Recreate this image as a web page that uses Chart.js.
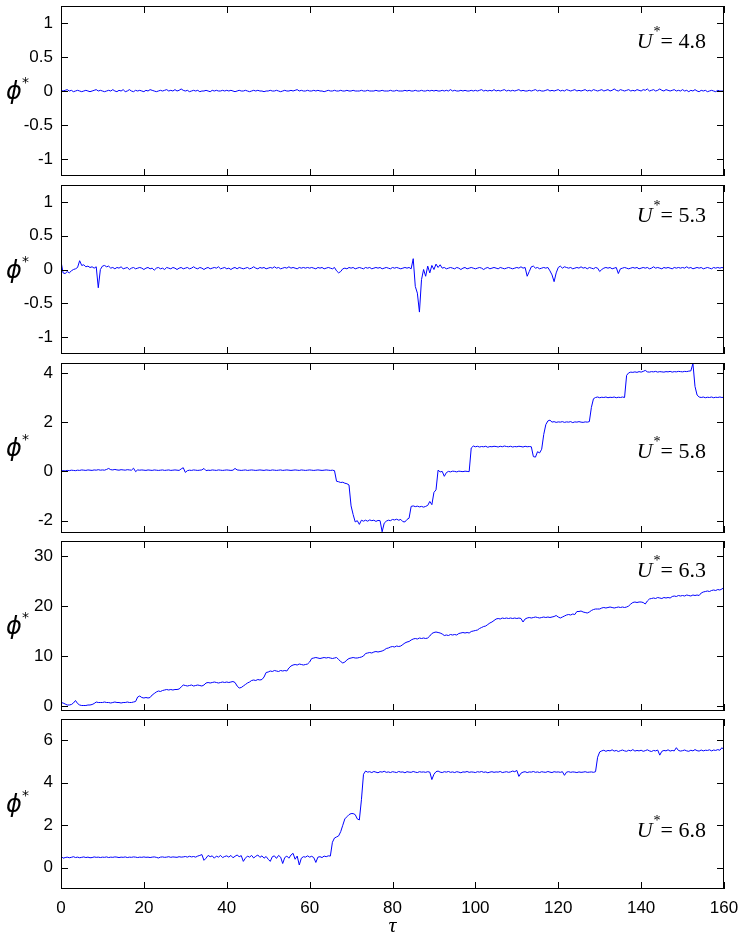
<!DOCTYPE html>
<html>
<head>
<meta charset="utf-8">
<title>phi* vs tau</title>
<script src="https://cdn.jsdelivr.net/npm/chart.js@4.4.1/dist/chart.umd.min.js"></script>
<style>
  html, body { margin: 0; padding: 0; background: #fff; }
  #wrap { position: relative; width: 742px; height: 941px; }
  #wrap canvas { position: absolute; left: 0; }
</style>
</head>
<body>
<div id="wrap">
  <canvas id="c1" width="742" height="178" style="top:2px"></canvas>
  <canvas id="c2" width="742" height="177" style="top:181px"></canvas>
  <canvas id="c3" width="742" height="178" style="top:359px"></canvas>
  <canvas id="c4" width="742" height="178" style="top:537px"></canvas>
  <canvas id="c5" width="742" height="226" style="top:715px"></canvas>
</div>
<script>
// time axis, sampled every half unit from 0 to 160
var tau = [];
for (var i = 0; i <= 320; i++) tau.push(i / 2);

var xTicks = [0, 20, 40, 60, 80, 100, 120, 140, 160];

// U* = 4.8
var phi48 = [
  0.01,0.00,0.01,0.02,0.00,0.01,-0.01,0.00,0.01,0.00,-0.01,0.00,0.01,0.00,-0.01,0.00,0.01,0.02,0.00,0.01,
  0.00,-0.01,0.00,0.01,0.00,0.02,0.00,-0.01,0.01,0.00,0.02,-0.01,0.00,0.02,0.00,-0.01,0.01,0.00,0.01,0.00,
  -0.01,0.01,0.00,0.02,0.01,0.00,-0.01,0.00,0.01,0.00,0.01,0.02,0.00,0.01,0.00,0.02,0.00,0.01,0.03,0.01,
  0.00,0.01,-0.01,0.00,0.01,0.00,0.01,-0.01,0.00,0.00,0.01,0.00,-0.01,0.01,0.00,0.01,0.00,0.00,0.01,0.00,
  0.01,0.00,0.01,0.00,-0.01,0.00,0.01,0.00,0.00,0.01,0.00,-0.01,0.00,0.01,0.00,0.01,0.00,0.00,-0.01,0.00,
  0.00,0.01,0.00,0.00,0.01,0.00,-0.01,0.00,0.01,0.00,0.00,0.01,0.00,0.01,0.02,0.00,0.01,0.00,0.00,0.01,
  0.00,0.00,0.01,0.00,0.01,0.00,0.00,-0.01,0.00,0.01,0.00,0.00,0.01,0.00,0.00,0.01,0.00,0.00,0.01,0.00,
  0.00,0.01,0.00,0.00,0.00,0.01,0.00,0.00,0.01,0.00,0.00,0.00,0.01,0.00,0.00,0.01,0.00,0.00,0.00,0.01,
  0.00,0.00,0.01,0.00,0.00,0.00,0.01,0.00,0.01,0.00,0.00,0.01,0.00,0.00,0.01,0.00,0.00,0.01,0.00,0.01,
  0.00,0.01,0.00,0.00,0.01,0.00,0.01,0.00,0.02,0.00,0.01,0.00,0.00,0.01,0.00,0.01,0.00,0.00,0.01,0.00,
  0.01,0.00,0.01,0.02,0.00,0.01,0.00,0.01,0.00,0.02,0.00,0.01,0.00,0.01,0.02,0.00,0.01,0.00,0.01,0.00,
  0.01,0.02,0.00,0.01,0.00,0.00,0.01,0.00,0.01,0.02,0.00,0.01,0.00,0.00,0.01,0.02,0.00,0.01,0.00,0.01,
  0.02,0.00,0.01,0.00,0.02,0.01,0.00,0.01,0.02,0.00,0.01,0.00,0.01,0.02,0.00,0.01,0.00,0.02,0.01,0.00,
  0.01,0.02,0.00,0.01,0.02,0.00,0.01,0.03,0.01,0.00,0.02,0.01,0.00,0.01,0.02,0.00,0.01,0.00,0.02,0.01,
  0.00,0.02,0.01,0.03,0.00,0.01,0.02,0.00,0.01,0.03,0.01,0.00,0.02,0.01,0.00,0.01,0.02,0.00,0.01,0.00,
  0.02,0.00,0.01,-0.01,0.01,0.00,0.02,0.00,-0.01,0.01,0.00,0.01,-0.01,0.00,0.01,0.00,-0.01,0.01,0.00,0.00,
  0.00
];

// U* = 5.3
var phi53 = [
  0.12,-0.05,-0.06,-0.03,-0.05,-0.02,0.00,0.01,0.03,0.13,0.06,0.07,0.04,0.05,0.03,0.04,0.02,0.04,-0.27,0.00,
  0.05,0.06,0.04,0.05,0.02,0.03,0.01,0.03,0.02,0.04,0.01,0.02,0.03,0.00,0.02,0.03,0.01,0.02,0.03,0.02,
  0.00,0.02,0.03,0.01,0.02,-0.01,0.02,0.03,0.01,0.02,0.00,0.03,0.02,0.01,0.03,0.02,0.00,0.02,0.03,0.01,
  0.02,0.03,0.01,0.02,0.04,0.02,0.01,0.03,0.02,0.00,0.02,0.03,0.01,0.02,0.03,0.02,0.04,0.01,0.02,0.03,
  0.01,0.02,0.00,0.02,0.03,0.01,0.03,0.02,0.01,0.02,0.03,0.01,0.02,0.04,0.02,0.01,0.03,0.02,0.03,0.01,
  0.02,0.03,0.02,0.04,0.02,0.03,0.01,0.02,0.03,0.02,0.04,0.02,0.03,0.02,0.01,0.03,0.02,0.03,0.02,0.03,
  0.02,0.03,0.02,0.01,0.03,0.02,0.03,0.01,0.02,0.03,0.02,0.01,0.03,-0.02,-0.05,-0.03,0.01,0.02,0.01,0.03,
  0.02,0.03,0.01,0.02,0.03,0.02,0.01,0.03,0.02,0.03,0.01,0.02,0.03,0.02,0.03,0.01,0.02,0.03,0.02,0.01,
  0.03,0.02,0.03,0.02,0.01,0.02,0.03,0.02,0.03,0.01,0.16,-0.25,-0.35,-0.63,-0.15,0.00,-0.10,0.05,-0.05,0.06,
  0.00,0.08,0.03,0.07,0.02,0.03,0.01,0.02,0.03,0.02,0.01,0.03,0.02,0.00,0.02,0.03,0.01,0.02,0.03,0.02,
  0.01,0.02,0.03,0.02,0.00,0.02,0.03,0.01,0.02,0.03,0.02,0.01,0.03,0.02,0.01,0.02,0.03,0.02,0.01,0.02,
  0.03,0.02,0.04,0.02,0.03,-0.10,-0.03,0.04,0.05,0.02,0.03,0.01,0.02,0.03,0.02,0.03,-0.02,-0.08,-0.18,-0.05,
  0.03,0.05,0.02,0.04,0.03,0.02,0.03,0.01,0.02,0.03,0.02,0.04,0.02,0.03,0.01,0.03,0.02,0.01,0.03,0.02,
  -0.03,0.00,0.02,0.03,0.02,0.03,0.01,0.02,0.03,-0.06,0.01,0.02,0.03,0.02,0.01,0.02,0.03,0.02,0.03,0.01,
  0.02,0.03,0.02,0.03,0.01,0.02,0.04,0.02,0.03,0.02,0.01,0.03,0.02,0.03,0.02,0.01,0.03,0.02,0.03,0.02,
  0.03,0.02,0.04,0.02,0.03,0.01,0.02,0.03,0.02,0.03,0.01,0.02,0.03,0.02,0.01,0.03,0.02,0.03,0.02,0.03,
  0.02
];

// U* = 5.8
var phi58 = [
  0.02,0.03,0.02,0.04,0.03,0.05,0.04,0.03,0.05,0.04,0.06,0.05,0.04,0.06,0.05,0.04,0.06,0.05,0.07,0.05,
  0.06,0.05,0.08,0.12,0.07,0.06,0.08,0.06,0.05,0.07,0.06,0.05,0.07,0.06,0.05,0.13,-0.01,0.06,0.05,0.06,
  0.05,0.04,0.06,0.05,0.04,0.06,0.05,0.04,0.05,0.06,0.04,0.05,0.06,0.04,0.05,0.06,0.05,0.04,0.10,0.15,
  -0.04,0.03,0.05,0.04,0.06,0.05,0.04,0.05,0.06,0.12,0.03,0.05,0.04,0.06,0.05,0.04,0.06,0.05,0.04,0.05,
  0.06,0.05,0.04,0.05,0.12,0.06,0.05,0.04,0.05,0.06,0.04,0.05,0.06,0.05,0.04,0.05,0.06,0.05,0.04,0.06,
  0.05,0.04,0.06,0.05,0.04,0.05,0.06,0.04,0.05,0.06,0.05,0.04,0.05,0.06,0.05,0.04,0.06,0.05,0.04,0.05,
  0.06,0.05,0.04,0.05,0.06,0.05,0.04,0.05,0.06,0.05,0.04,0.05,0.03,-0.40,-0.42,-0.45,-0.44,-0.48,-0.50,-0.55,
  -1.40,-1.75,-2.05,-2.00,-2.15,-1.98,-2.02,-1.98,-2.02,-1.97,-2.00,-1.98,-2.03,-1.99,-2.00,-2.45,-2.10,-2.02,-1.98,-2.00,
  -1.95,-1.97,-1.94,-1.98,-1.95,-2.04,-2.05,-1.95,-1.90,-1.42,-1.40,-1.43,-1.41,-1.44,-1.42,-1.45,-1.42,-1.38,-1.22,-1.35,
  -0.85,-0.75,0.05,-0.02,0.00,-0.20,-0.05,0.00,-0.02,0.01,0.00,-0.02,0.01,0.00,-0.01,0.01,0.00,-0.01,0.95,1.03,
  1.00,1.02,0.99,1.01,1.00,1.02,0.98,1.01,1.00,1.02,1.01,0.99,1.02,1.00,1.03,1.01,1.00,1.02,0.99,1.01,
  1.00,1.02,1.01,0.99,1.02,1.00,1.01,1.00,0.60,0.58,0.80,0.75,0.90,1.50,1.90,2.05,2.08,2.00,2.02,1.99,
  2.01,2.00,2.02,1.99,2.01,2.00,2.02,1.98,2.01,2.00,2.02,2.00,1.99,2.01,2.00,2.02,2.60,2.95,3.00,3.02,
  2.99,3.01,3.00,3.02,2.99,3.01,3.00,3.02,2.99,3.01,3.00,3.02,3.00,3.90,4.00,4.03,4.02,4.04,4.02,4.05,
  4.03,4.06,4.10,4.04,4.03,4.05,4.04,4.06,4.03,4.05,4.04,4.03,4.05,4.04,4.06,4.03,4.05,4.04,4.06,4.05,
  4.04,4.06,4.05,4.07,4.08,4.38,3.45,3.10,3.02,3.00,3.02,2.99,3.01,3.00,3.02,2.99,3.01,3.00,3.02,3.00,
  3.01
];

// U* = 6.3
var phi63 = [
  0.7,0.6,0.4,0.2,0.2,0.3,0.6,1.1,0.5,0.2,0.1,0.1,0.1,0.2,0.2,0.3,0.5,0.8,0.7,0.7,
  0.7,0.8,0.7,0.7,0.6,0.7,0.8,0.7,0.7,0.6,0.7,0.7,0.8,0.7,0.7,0.8,0.9,1.8,2.0,1.7,
  1.6,1.7,1.6,1.7,2.2,2.5,2.8,3.0,2.9,3.1,3.2,3.3,3.2,3.3,3.2,3.3,3.3,3.4,3.8,4.2,
  4.1,4.0,4.1,4.2,4.0,4.1,4.2,4.1,4.0,4.2,4.6,4.7,4.6,4.7,4.8,4.7,4.6,4.7,4.8,4.7,
  4.8,4.7,4.8,4.9,4.7,4.0,3.6,3.7,4.0,4.3,4.6,4.8,5.1,5.2,5.1,5.3,5.2,5.3,5.8,6.7,
  6.8,7.0,6.9,7.1,7.0,6.9,7.1,7.0,7.1,7.0,7.6,8.0,8.2,8.3,8.2,8.4,8.3,8.2,8.3,8.4,
  8.8,9.5,9.6,9.7,9.6,9.5,9.6,9.7,9.6,9.7,9.6,9.5,9.6,9.7,9.3,8.9,8.6,8.8,9.2,9.5,
  9.6,9.7,9.6,9.6,9.7,9.8,10.0,10.5,10.6,10.7,10.6,10.8,10.9,10.8,10.9,11.0,11.2,11.5,11.6,11.8,
  11.9,11.8,12.0,11.9,12.0,12.3,12.6,12.8,12.9,13.2,13.4,13.5,13.4,13.6,13.5,13.6,13.5,13.6,14.0,14.5,
  14.7,14.8,14.7,14.6,14.4,14.1,14.2,14.1,14.3,14.2,14.3,14.2,14.5,14.6,14.7,14.6,14.7,14.6,14.9,15.0,
  15.1,15.2,15.5,15.7,15.9,16.0,16.3,16.6,16.8,17.1,17.4,17.5,17.4,17.6,17.5,17.6,17.5,17.6,17.5,17.6,
  17.5,17.6,17.5,16.8,17.4,17.6,17.7,17.6,17.7,17.8,17.7,17.6,17.7,17.8,17.7,17.8,17.7,17.8,17.9,18.1,
  17.8,17.6,17.8,18.0,18.2,18.3,18.2,18.4,18.3,18.9,18.9,19.0,18.8,18.7,18.6,18.8,19.1,19.3,19.4,19.4,
  19.4,19.6,19.7,19.6,19.7,19.8,19.7,19.6,19.7,19.8,19.7,19.8,19.7,19.8,20.0,20.4,20.7,20.8,20.7,20.8,
  20.8,20.7,20.4,21.0,21.4,21.5,21.6,21.5,21.7,21.6,21.5,21.7,21.6,21.7,21.6,21.9,22.0,21.9,22.1,22.0,
  22.1,22.0,22.2,22.1,22.0,22.2,22.1,22.2,22.1,22.6,22.8,22.9,23.0,22.9,23.1,23.2,23.1,23.3,23.2,23.4,
  23.7
];

// U* = 6.8
var phi68 = [
  0.55,0.45,0.48,0.50,0.47,0.49,0.52,0.48,0.50,0.47,0.49,0.51,0.48,0.50,0.47,0.48,0.51,0.49,0.50,0.48,
  0.50,0.49,0.51,0.48,0.50,0.49,0.51,0.50,0.48,0.50,0.49,0.51,0.48,0.50,0.49,0.51,0.50,0.48,0.50,0.49,
  0.51,0.49,0.50,0.48,0.50,0.51,0.49,0.46,0.50,0.51,0.49,0.50,0.52,0.49,0.51,0.50,0.49,0.52,0.50,0.51,
  0.53,0.50,0.54,0.51,0.53,0.50,0.55,0.58,0.62,0.35,0.45,0.58,0.52,0.56,0.45,0.55,0.50,0.58,0.48,0.53,
  0.56,0.50,0.58,0.47,0.54,0.60,0.52,0.57,0.30,0.45,0.55,0.50,0.58,0.46,0.54,0.60,0.49,0.56,0.45,0.53,
  0.40,0.30,0.52,0.56,0.44,0.58,0.50,0.20,0.48,0.55,0.45,0.60,0.68,0.40,0.55,0.13,0.45,0.52,0.50,0.56,
  0.50,0.54,0.48,0.25,0.50,0.52,0.48,0.55,0.52,0.56,0.55,1.20,1.40,1.45,1.50,1.70,2.00,2.30,2.40,2.50,
  2.55,2.55,2.50,2.30,2.25,3.20,4.40,4.55,4.50,4.52,4.48,4.53,4.50,4.47,4.52,4.50,4.54,4.49,4.51,4.48,
  4.52,4.50,4.48,4.53,4.50,4.51,4.47,4.52,4.50,4.49,4.53,4.50,4.48,4.52,4.50,4.51,4.49,4.52,4.50,4.15,
  4.40,4.52,4.55,4.50,4.48,4.52,4.50,4.53,4.49,4.51,4.48,4.52,4.50,4.47,4.51,4.50,4.53,4.49,4.51,4.50,
  4.48,4.52,4.50,4.53,4.49,4.51,4.47,4.50,4.52,4.49,4.51,4.50,4.53,4.48,4.50,4.52,4.49,4.51,4.55,4.52,
  4.58,4.30,4.45,4.50,4.52,4.48,4.51,4.50,4.53,4.49,4.51,4.48,4.52,4.50,4.49,4.53,4.50,4.48,4.52,4.50,
  4.51,4.49,4.52,4.35,4.50,4.52,4.49,4.51,4.50,4.48,4.51,4.49,4.50,4.52,4.49,4.50,4.51,4.49,4.52,5.20,
  5.45,5.50,5.53,5.48,5.52,5.50,5.55,5.49,5.52,5.47,5.51,5.54,5.50,5.48,5.53,5.50,5.56,5.49,5.52,5.50,
  5.53,5.48,5.51,5.55,5.50,5.47,5.52,5.50,5.54,5.30,5.48,5.52,5.50,5.55,5.49,5.52,5.50,5.65,5.52,5.49,
  5.51,5.54,5.50,5.48,5.53,5.50,5.56,5.51,5.49,5.54,5.50,5.53,5.52,5.55,5.50,5.54,5.52,5.56,5.53,5.65,
  5.55
];

// axis ranges and ticks per panel
var yTicks48 = [-1, -0.5, 0, 0.5, 1];
var yTicks53 = [-1, -0.5, 0, 0.5, 1];
var yTicks58 = [-2, 0, 2, 4];
var yTicks63 = [0, 10, 20, 30];
var yTicks68 = [0, 2, 4, 6];

var tickFont = { family: '"Liberation Sans", Arial, sans-serif', size: 17 };

// box, inward tick marks, phi* and U* labels
var framePlugin = {
  id: 'frame',
  afterDraw: function(chart, args, opts) {
    var ctx = chart.ctx, a = chart.chartArea;
    var xs = chart.scales.x, ys = chart.scales.y;
    ctx.save();
    ctx.strokeStyle = '#000';
    ctx.lineWidth = 1;
    ctx.strokeRect(a.left + 0.5, a.top + 0.5, a.right - a.left - 1, a.bottom - a.top - 1);

    ctx.beginPath();
    xTicks.forEach(function(v) {
      var px = Math.round(xs.getPixelForValue(v)) + 0.5;
      ctx.moveTo(px, a.top); ctx.lineTo(px, a.top + 7);
      ctx.moveTo(px, a.bottom); ctx.lineTo(px, a.bottom - 7);
    });
    opts.yTicks.forEach(function(v) {
      var py = Math.round(ys.getPixelForValue(v)) + 0.5;
      ctx.moveTo(a.left, py); ctx.lineTo(a.left + 7, py);
      ctx.moveTo(a.right, py); ctx.lineTo(a.right - 7, py);
    });
    ctx.stroke();

    // y axis label
    var mid = (a.top + a.bottom) / 2;
    ctx.fillStyle = '#000';
    ctx.textBaseline = 'alphabetic';
    ctx.textAlign = 'left';
    ctx.font = 'oblique 24px "DejaVu Sans"';
    ctx.fillText('ϕ', 6, mid + 8);
    ctx.font = '14px "DejaVu Sans"';
    ctx.fillText('*', 22, mid - 4);

    // U* = value
    var rest = '= ' + opts.u;
    var base = a.top + opts.uBase;
    ctx.font = '22px "Liberation Serif"';
    var w3 = ctx.measureText(rest).width;
    ctx.font = '14px "Liberation Serif"';
    var w2 = ctx.measureText('*').width;
    ctx.font = 'italic 22px "Liberation Serif"';
    var w1 = ctx.measureText('U').width;
    var x = 705 - w3 - w2 - w1;
    ctx.fillText('U', x, base);
    ctx.font = '14px "Liberation Serif"';
    ctx.fillText('*', x + w1 + 1, base - 12);
    ctx.font = '22px "Liberation Serif"';
    ctx.fillText(rest, x + w1 + w2 + 1, base);

    if (opts.tauLabel) {
      ctx.font = 'italic 22px "Liberation Serif"';
      ctx.textAlign = 'center';
      ctx.fillText('τ', (a.left + a.right) / 2, 217);
    }
    ctx.restore();
  }
};

// drop the extra room Chart.js keeps for half tick labels at the ends
function noEndPadding(s) {
  s.paddingTop = 0;
  s.paddingBottom = 0;
  s.paddingLeft = 0;
  s.paddingRight = 0;
}

function makePanel(id, phi, yMin, yMax, yTicks, u, uBase, bottom) {
  var points = phi.map(function(v, i) { return { x: tau[i], y: v }; });
  var ctx = document.getElementById(id).getContext('2d');
  return new Chart(ctx, {
    type: 'line',
    data: {
      datasets: [{
        data: points,
        borderColor: '#0000ff',
        borderWidth: 1,
        pointRadius: 0,
        tension: 0,
        fill: false
      }]
    },
    options: {
      responsive: false,
      animation: false,
      devicePixelRatio: 1,
      layout: { padding: { top: 4, right: 18, bottom: bottom ? 0 : 4, left: 0 } },
      plugins: {
        legend: { display: false },
        tooltip: { enabled: false },
        frame: { yTicks: yTicks, u: u, uBase: uBase, tauLabel: bottom }
      },
      scales: {
        x: {
          type: 'linear',
          min: 0,
          max: 160,
          display: bottom,
          grid: { display: false, drawTicks: false },
          border: { display: false },
          ticks: { font: tickFont, color: '#000', padding: 9, maxRotation: 0,
                   callback: function(v) { return String(v); } },
          afterBuildTicks: function(s) { s.ticks = xTicks.map(function(v) { return { value: v }; }); },
          afterFit: function(s) { noEndPadding(s); if (bottom) s.height = 52; }
        },
        y: {
          min: yMin,
          max: yMax,
          grid: { display: false, drawTicks: false },
          border: { display: false },
          ticks: { font: tickFont, color: '#000', padding: 8,
                   callback: function(v) { return String(v); } },
          afterBuildTicks: function(s) { s.ticks = yTicks.map(function(v) { return { value: v }; }); },
          afterFit: function(s) { noEndPadding(s); s.width = 61; }
        }
      }
    },
    plugins: [framePlugin]
  });
}

makePanel('c1', phi48, -1.25, 1.25, yTicks48, '4.8', 42, false);
makePanel('c2', phi53, -1.25, 1.25, yTicks53, '5.3', 37, false);
makePanel('c3', phi58, -2.5, 4.4, yTicks58, '5.8', 95, false);
makePanel('c4', phi63, -1, 33, yTicks63, '6.3', 36, false);
makePanel('c5', phi68, -1, 7, yTicks68, '6.8', 118, true);
</script>
</body>
</html>
